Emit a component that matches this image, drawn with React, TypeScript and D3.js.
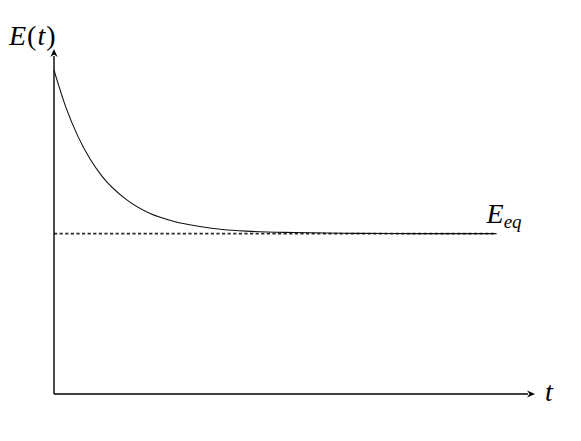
import React from "react";
import * as d3 from "d3";

// Relaxation curve E(t) (arbitrary units)
const tValues = [0, 0.25, 0.5, 0.75, 1, 1.5, 2, 2.5, 3, 3.5, 4, 5, 6, 7, 8, 9.2];
const eValues = [9.39, 8.3, 7.46, 6.81, 6.31, 5.64, 5.23, 5.0, 4.86, 4.77, 4.72, 4.68, 4.66, 4.65, 4.65, 4.65];
const eqValue = 4.65;
const tMax = 10;
const eMax = 10;
const eqEnd = 9.2;

const W = 581;
const H = 441;
const x0 = 54;
const x1 = 535;
const y0 = 394;
const y1 = 49;

export default function App() {
  const x = d3.scaleLinear().domain([0, tMax]).range([x0, x1]);
  const y = d3.scaleLinear().domain([0, eMax]).range([y0, y1]);
  const pts: [number, number][] = tValues.map((t, i) => [t, eValues[i]]);
  const line = d3
    .line<[number, number]>()
    .x((d) => x(d[0]))
    .y((d) => y(d[1]))
    .curve(d3.curveMonotoneX);

  const ah = 8; // arrow length
  const aw = 3.6; // arrow half-width
  const font = "'Liberation Serif', 'Times New Roman', serif";

  return (
    <svg
      width={W}
      height={H}
      style={{ position: "absolute", left: 0, top: 0, background: "#fff" }}
    >
      {/* dashed equilibrium line */}
      <line
        x1={x(0)}
        x2={x(eqEnd)}
        y1={y(eqValue)}
        y2={y(eqValue)}
        stroke="#2a2a2a"
        strokeWidth={1.7}
        strokeDasharray="3.2,2.4"
      />
      {/* curve */}
      <path d={line(pts) || ""} fill="none" stroke="#111" strokeWidth={1.1} />
      {/* axes */}
      <line x1={x(0)} x2={x(0)} y1={y(0)} y2={y(eMax) + ah - 1} stroke="#000" strokeWidth={1.4} />
      <line x1={x(0)} x2={x(tMax) - ah + 1} y1={y(0)} y2={y(0)} stroke="#000" strokeWidth={1.4} />
      <path
        d={`M${x(0)},${y(eMax)} L${x(0) - aw},${y(eMax) + ah} L${x(0)},${y(eMax) + ah - 2.5} L${x(0) + aw},${y(eMax) + ah} Z`}
        fill="#000"
      />
      <path
        d={`M${x(tMax)},${y(0)} L${x(tMax) - ah},${y(0) - aw} L${x(tMax) - ah + 2.5},${y(0)} L${x(tMax) - ah},${y(0) + aw} Z`}
        fill="#000"
      />
      {/* labels */}
      <text x={9} y={45} fontFamily={font} fontSize={28} fill="#000">
        <tspan fontStyle="italic">E</tspan>
        <tspan dx={1}>(</tspan>
        <tspan fontStyle="italic" dx={1}>t</tspan>
        <tspan dx={1}>)</tspan>
      </text>
      <text x={x(eqEnd) - 10} y={y(eqValue) - 11} fontFamily={font} fontSize={28} fill="#000">
        <tspan fontStyle="italic">E</tspan>
        <tspan fontStyle="italic" fontSize={19} dy={5}>eq</tspan>
      </text>
      <text x={x(tMax) + 10} y={y(0) + 7} fontFamily={font} fontSize={28} fontStyle="italic" fill="#000">
        t
      </text>
    </svg>
  );
}
